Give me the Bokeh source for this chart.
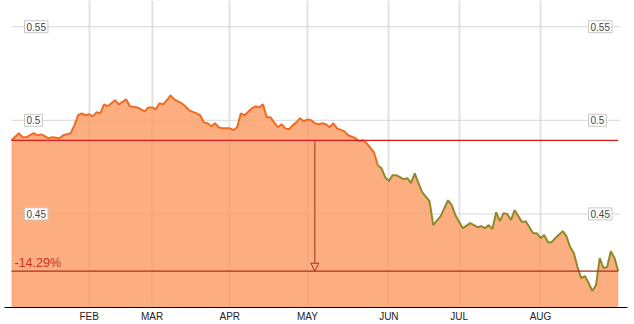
from bokeh.plotting import figure
from bokeh.models import FixedTicker, Label, Arrow, NormalHead
from bokeh.embed import file_html
from bokeh.resources import INLINE

# ---- data (trading-day index, price) ----
days = [0, 2, 3, 4, 6, 7, 8, 9, 10, 11, 13, 14, 16, 17, 18, 19, 20, 21, 22, 23,
        24, 25, 26, 28, 29, 31, 32, 34, 35, 36, 37, 38, 39, 40, 41, 42, 43, 44, 46, 47,
        48, 50, 51, 52, 53, 54, 55, 56, 57, 59, 60, 61, 62, 63, 65, 66, 67, 68, 69, 70,
        71, 72, 73, 74, 75, 76, 77, 78, 79, 80, 81, 82, 83, 84, 85, 86, 87, 88, 90, 91,
        93, 94, 95, 96, 98, 99, 100, 101, 102, 103, 104, 105, 106, 107, 108, 109, 110, 111, 113, 114,
        116, 118, 119, 120, 122, 124, 125, 126, 127, 128, 129, 130, 131, 132, 133, 134, 135, 136, 138, 139,
        140, 141, 142, 143, 144, 145, 146, 147, 149, 150, 151, 152, 153, 154, 155, 156, 157, 158, 159, 160,
        161, 162, 163, 164]
price = [0.4893, 0.4931, 0.4909, 0.4909, 0.4931, 0.4920, 0.4925, 0.4915, 0.4904, 0.4909,
         0.4904, 0.4920, 0.4931, 0.4973, 0.5027, 0.5037, 0.5027, 0.5032, 0.5021, 0.5043,
         0.5037, 0.5085, 0.5075, 0.5107, 0.5085, 0.5112, 0.5075, 0.5069, 0.5059, 0.5048,
         0.5069, 0.5069, 0.5059, 0.5091, 0.5085, 0.5107, 0.5133, 0.5112, 0.5091, 0.5075,
         0.5053, 0.5037, 0.5027, 0.4989, 0.4984, 0.4968, 0.4984, 0.4963, 0.4957, 0.4957,
         0.4947, 0.4963, 0.5037, 0.5027, 0.5064, 0.5075, 0.5069, 0.5085, 0.5016, 0.5016,
         0.4989, 0.4963, 0.4979, 0.4957, 0.4952, 0.4973, 0.4989, 0.5011, 0.4995, 0.5005,
         0.5000, 0.4984, 0.4979, 0.4984, 0.4979, 0.4963, 0.4984, 0.4957, 0.4941, 0.4920,
         0.4904, 0.4888, 0.4893, 0.4877, 0.4829, 0.4760, 0.4744, 0.4696, 0.4675, 0.4707,
         0.4707, 0.4696, 0.4685, 0.4691, 0.4664, 0.4717, 0.4664, 0.4616, 0.4568, 0.4440,
         0.4488, 0.4573, 0.4547, 0.4493, 0.4424, 0.4451, 0.4440, 0.4429, 0.4435, 0.4424,
         0.4440, 0.4419, 0.4509, 0.4461, 0.4504, 0.4499, 0.4467, 0.4520, 0.4456, 0.4461,
         0.4429, 0.4397, 0.4397, 0.4371, 0.4387, 0.4349, 0.4349, 0.4371, 0.4408, 0.4381,
         0.4323, 0.4291, 0.4216, 0.4157, 0.4168, 0.4131, 0.4088, 0.4120, 0.4264, 0.4211,
         0.4216, 0.4301, 0.4264, 0.4194]

month_ticks = [21, 38, 59, 80, 102, 121, 143]
month_labels = ["FEB", "MAR", "APR", "MAY", "JUN", "JUL", "AUG"]
y_ticks = [0.45, 0.5, 0.55]
y_tick_labels = ["0.45", "0.5", "0.55"]
y_floor = 0.40
y_top = 0.564
olive_from_day = 99

first, last = price[0], price[-1]
pct_text = f"{(last / first - 1) * 100:.2f}%"

p = figure(width=634, height=324, output_backend="svg", toolbar_location=None,
           x_range=(-2.97, 168.4), y_range=(y_floor, y_top), y_axis_location=None,
           min_border_left=0, min_border_right=0, min_border_top=0, min_border_bottom=0)
p.outline_line_color = None
p.background_fill_color = "white"
p.border_fill_color = "white"
p.ygrid.visible = False
p.xgrid.ticker = FixedTicker(ticks=month_ticks)
p.xgrid.grid_line_color = "#e2e2e2"
p.xgrid.grid_line_width = 2

# horizontal grid lines
p.segment(x0=[days[0]] * len(y_ticks), x1=[days[-1] + 0.6] * len(y_ticks),
          y0=y_ticks, y1=y_ticks, line_color="#d9d9d9", line_width=1)

# area
p.varea(x=days, y1=[y_floor] * len(days), y2=price, fill_color="#FB9A60", fill_alpha=0.8)

# line (orange then olive)
i0 = days.index(olive_from_day)
p.line(days[:i0 + 1], price[:i0 + 1], line_color="#EF6C24", line_width=2)
p.line(days[i0:], price[i0:], line_color="#8E8A2C", line_width=2)

# reference lines
p.segment(x0=[days[0]], x1=[days[-1]], y0=[first], y1=[first], line_color="#DA1A1A", line_width=1.2)
p.segment(x0=[days[0]], x1=[days[-1]], y0=[last], y1=[last], line_color="#A8301A", line_width=1.2)

mid = (days[0] + days[-1]) / 2
p.add_layout(Arrow(x_start=mid, y_start=first, x_end=mid, y_end=last,
                   line_color="#A8301A", line_width=1,
                   end=NormalHead(size=8, fill_color=None, line_color="#A8301A", line_width=1)))

p.add_layout(Label(x=days[0], y=last, x_offset=3, y_offset=8, text=pct_text,
                   text_color="#C8321E", text_font="Liberation Sans", text_font_size="12.5px",
                   text_baseline="alphabetic"))

for t, lab in zip(y_ticks, y_tick_labels):
    for sx in (24, 588):
        p.add_layout(Label(x=sx, x_units="screen", y=t, text=lab, text_baseline="middle",
                           text_font="Liberation Sans", text_font_size="10px", text_color="#444444",
                           background_fill_color="white", border_line_color="#c8c8c8",
                           padding=2))

ax = p.xaxis[0]
ax.ticker = FixedTicker(ticks=month_ticks)
ax.major_label_overrides = {t: l for t, l in zip(month_ticks, month_labels)}
ax.major_tick_line_color = None
ax.major_tick_out = 0
ax.major_tick_in = 0
ax.minor_tick_line_color = None
ax.minor_tick_out = 0
ax.minor_tick_in = 0
ax.axis_line_color = "black"
ax.axis_line_width = 1
ax.bounds = (-1.9, 166.5)
ax.major_label_standoff = 3
ax.major_label_text_font = "Liberation Sans"
ax.major_label_text_font_size = "10px"
ax.major_label_text_color = "#222222"

open("out.html", "w").write(file_html(p, INLINE))
